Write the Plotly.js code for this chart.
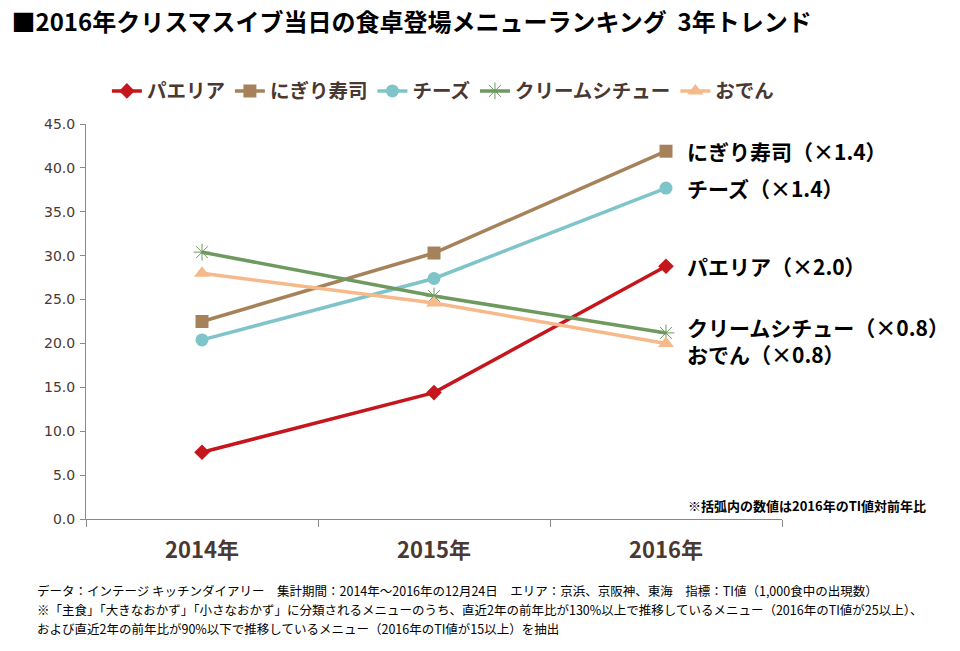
<!DOCTYPE html>
<html>
<head>
<meta charset="utf-8">
<script src="https://cdn.plot.ly/plotly-3.0.1.min.js"></script>
<style>
  html, body { margin: 0; padding: 0; background: #fff; }
  #chart { width: 960px; height: 651px; }
</style>
</head>
<body>
<div id="chart"></div>
<script>
// Years on the category axis
const years = ['2014年', '2015年', '2016年'];

// TI values (appearances per 1,000 meals) on Christmas Eve
const paella     = [7.6, 14.4, 28.8];
const nigiri     = [22.5, 30.3, 41.9];
const cheese     = [20.4, 27.4, 37.7];
const creamStew  = [30.4, 25.4, 21.2];
const oden       = [28.0, 24.6, 20.0];

// Series names and 2016 year-over-year ratios shown at the line ends
const names  = ['パエリア', 'にぎり寿司', 'チーズ', 'クリームシチュー', 'おでん'];
const ratios = ['2.0', '1.4', '1.4', '0.8', '0.8'];

const colors  = ['#C4161C', '#A6825A', '#7FC4C8', '#6E9A60', '#F6B98B'];
const symbols = ['diamond', 'square', 'circle', 'asterisk-open', 'triangle-up'];
const sizes   = [12, 13, 13, 14, 14];
const series  = [paella, nigiri, cheese, creamStew, oden];

const JP = '"Noto Sans CJK JP", "Noto Sans", sans-serif';
const TXT = '#4A3832';

const traces = series.map((vals, i) => ({
  type: 'scatter',
  mode: 'lines+markers',
  name: names[i],
  x: years,
  y: vals,
  line: { color: colors[i], width: 3.5 },
  marker: {
    symbol: symbols[i],
    size: sizes[i],
    color: colors[i],
    line: { color: colors[i], width: symbols[i] === 'asterisk-open' ? 1 : 0 }
  },
  hoverinfo: 'x+y+name'
}));

// End-of-line labels: vertical pixel nudges keep the two close ones apart
const labelShift = [0, 0, 0, 6, -11];
const labelOrder = [1, 2, 0, 3, 4];
const annotations = labelOrder.map(i => ({
  xref: 'x', yref: 'y',
  x: years[2], y: series[i][2],
  xshift: 19, yshift: labelShift[i],
  xanchor: 'left', yanchor: 'middle',
  text: names[i] + '（×' + ratios[i] + '）',
  showarrow: false,
  font: { family: JP, size: 21, color: '#000', weight: 'bold' }
}));

// Note about the bracketed figures
annotations.push({
  xref: 'paper', yref: 'paper', x: 1.21, y: 0.035,
  xanchor: 'right', yanchor: 'middle',
  text: '※括弧内の数値は2016年のTI値対前年比',
  showarrow: false,
  font: { family: JP, size: 13, color: '#000', weight: 'bold' }
});

// Source / method footnotes
const notes = [
  'データ：インテージ キッチンダイアリー　集計期間：2014年～2016年の12月24日　エリア：京浜、京阪神、東海　指標：TI値（1,000食中の出現数）',
  '※「主食」「大きなおかず」「小さなおかず」に分類されるメニューのうち、直近2年の前年比が130%以上で推移しているメニュー（2016年のTI値が25以上）、',
  'および直近2年の前年比が90%以下で推移しているメニュー（2016年のTI値が15以上）を抽出'
];
const noteY = [-0.18, -0.228, -0.276];
notes.forEach((t, k) => annotations.push({
  xref: 'paper', yref: 'paper', x: -0.073, y: noteY[k],
  xanchor: 'left', yanchor: 'middle',
  text: t, showarrow: false,
  font: { family: JP, size: 12.5, color: '#000' }
}));

const layout = {
  width: 960, height: 651,
  margin: { l: 86, r: 178, t: 124, b: 132 },
  paper_bgcolor: '#fff', plot_bgcolor: '#fff',
  showlegend: true,
  title: {
    text: '■2016年クリスマスイブ当日の食卓登場メニューランキング  3年トレンド',
    font: { family: JP, size: 24, color: '#000', weight: 'bold' },
    x: 0.012, xanchor: 'left', xref: 'container',
    y: 0.966, yanchor: 'middle', yref: 'container'
  },
  legend: {
    orientation: 'h',
    x: 0.03, xanchor: 'left',
    y: 1.083, yanchor: 'middle',
    font: { family: JP, size: 19.5, color: TXT, weight: 'bold' },
    itemwidth: 30,
    tracegroupgap: 0
  },
  xaxis: {
    type: 'category',
    range: [-0.5, 2.5],
    showgrid: false, zeroline: false,
    showline: true, linecolor: '#898989', linewidth: 1,
    ticks: 'outside', ticklen: 7, tickcolor: '#898989',
    tickson: 'boundaries',
    tickfont: { family: JP, size: 22, color: TXT, weight: 'bold' },
    ticklabelstandoff: 12
  },
  yaxis: {
    range: [0, 45], dtick: 5, tickformat: '.1f',
    showgrid: false, zeroline: false,
    showline: true, linecolor: '#898989', linewidth: 1,
    ticks: 'outside', ticklen: 5, tickcolor: '#898989',
    tickfont: { family: '"DejaVu Sans", sans-serif', size: 14, color: TXT },
    ticklabelstandoff: 2
  },
  annotations: annotations
};

Plotly.newPlot('chart', traces, layout, { displayModeBar: false, responsive: false });
</script>
</body>
</html>
